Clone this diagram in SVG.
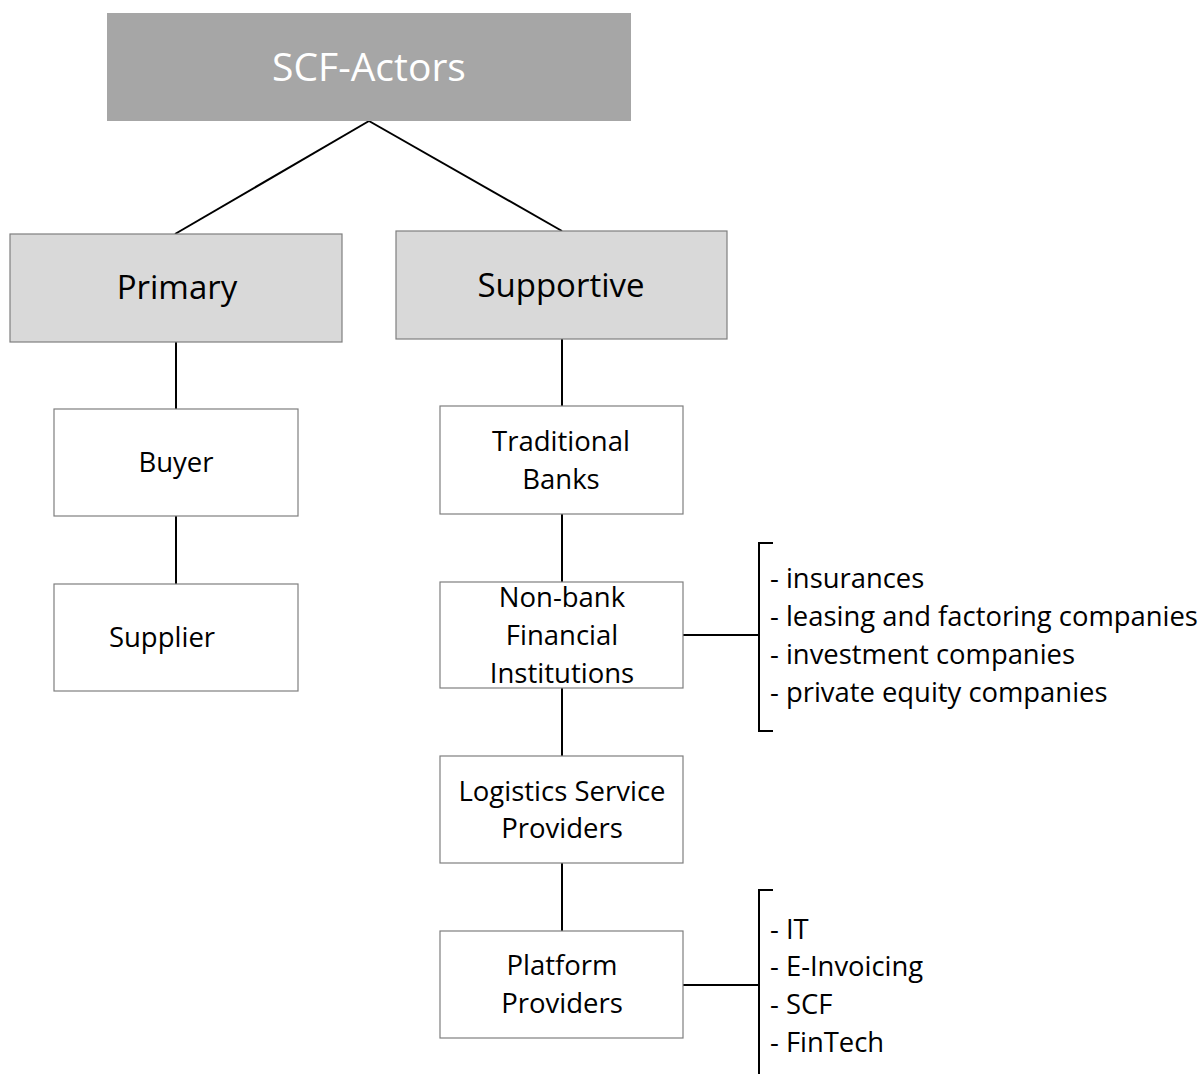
<svg xmlns="http://www.w3.org/2000/svg" width="1203" height="1074" viewBox="0 0 1203 1074">
  <style>
    text { font-family: "Open Sans", Lato, "Liberation Sans", sans-serif; fill: #000; }
    .box { fill: #fff; stroke: #7f7f7f; stroke-width: 1.2; }
    .mid { fill: #d9d9d9; stroke: #7f7f7f; stroke-width: 1.2; }
    .top { fill: #a6a6a6; stroke: none; }
    .c { text-anchor: middle; }
    .lbl { font-size: 27.5px; }
    .list { font-size: 27.4px; }
    .conn line, .conn path { stroke: #000; stroke-width: 2; fill: none; }
  </style>

  <!-- connectors -->
  <g class="conn">
    <line x1="369" y1="121" x2="175" y2="234"/>
    <line x1="369" y1="121" x2="562" y2="231"/>
    <line x1="176" y1="342" x2="176" y2="409"/>
    <line x1="176" y1="516" x2="176" y2="584"/>
    <line x1="562" y1="339" x2="562" y2="406"/>
    <line x1="562" y1="514" x2="562" y2="582"/>
    <line x1="562" y1="688" x2="562" y2="756"/>
    <line x1="562" y1="863" x2="562" y2="931"/>
    <line x1="683" y1="635" x2="759" y2="635"/>
    <path d="M773 543 H759 V731 H773"/>
    <line x1="683" y1="985" x2="759" y2="985"/>
    <path d="M773 890 H759 V1074"/>
  </g>

  <g id="scf-actors">
    <rect class="top" x="107" y="13" width="524" height="108"/>
    <text class="c" x="369" y="81" font-size="39" style="fill:#fff">SCF-Actors</text>
  </g>

  <g id="primary">
    <rect class="mid" x="10" y="234" width="332" height="108"/>
    <text class="c" x="177" y="299" font-size="33">Primary</text>
  </g>

  <g id="supportive">
    <rect class="mid" x="396" y="231" width="331" height="108"/>
    <text class="c" x="561" y="297" font-size="33">Supportive</text>
  </g>

  <g id="buyer">
    <rect class="box" x="54" y="409" width="244" height="107"/>
    <text class="c lbl" x="176" y="472">Buyer</text>
  </g>

  <g id="supplier">
    <rect class="box" x="54" y="584" width="244" height="107"/>
    <text class="c lbl" x="162" y="647">Supplier</text>
  </g>

  <g id="traditional-banks">
    <rect class="box" x="440" y="406" width="243" height="108"/>
    <text class="c lbl" x="561" y="451">Traditional</text>
    <text class="c lbl" x="561" y="489">Banks</text>
  </g>

  <g id="non-bank">
    <rect class="box" x="440" y="582" width="243" height="106"/>
    <text class="c lbl" x="562" y="607">Non-bank</text>
    <text class="c lbl" x="562" y="645">Financial</text>
    <text class="c lbl" x="562" y="683">Institutions</text>
  </g>

  <g id="non-bank-list">
    <text class="list" x="770" y="588">- insurances</text>
    <text class="list" x="770" y="626">- leasing and factoring companies</text>
    <text class="list" x="770" y="664">- investment companies</text>
    <text class="list" x="770" y="702">- private equity companies</text>
  </g>

  <g id="logistics">
    <rect class="box" x="440" y="756" width="243" height="107"/>
    <text class="c lbl" x="562" y="801">Logistics Service</text>
    <text class="c lbl" x="562" y="838">Providers</text>
  </g>

  <g id="platform">
    <rect class="box" x="440" y="931" width="243" height="107"/>
    <text class="c lbl" x="562" y="975">Platform</text>
    <text class="c lbl" x="562" y="1013">Providers</text>
  </g>

  <g id="platform-list">
    <text class="list" x="770" y="939">- IT</text>
    <text class="list" x="770" y="976">- E-Invoicing</text>
    <text class="list" x="770" y="1014">- SCF</text>
    <text class="list" x="770" y="1052">- FinTech</text>
  </g>
</svg>
